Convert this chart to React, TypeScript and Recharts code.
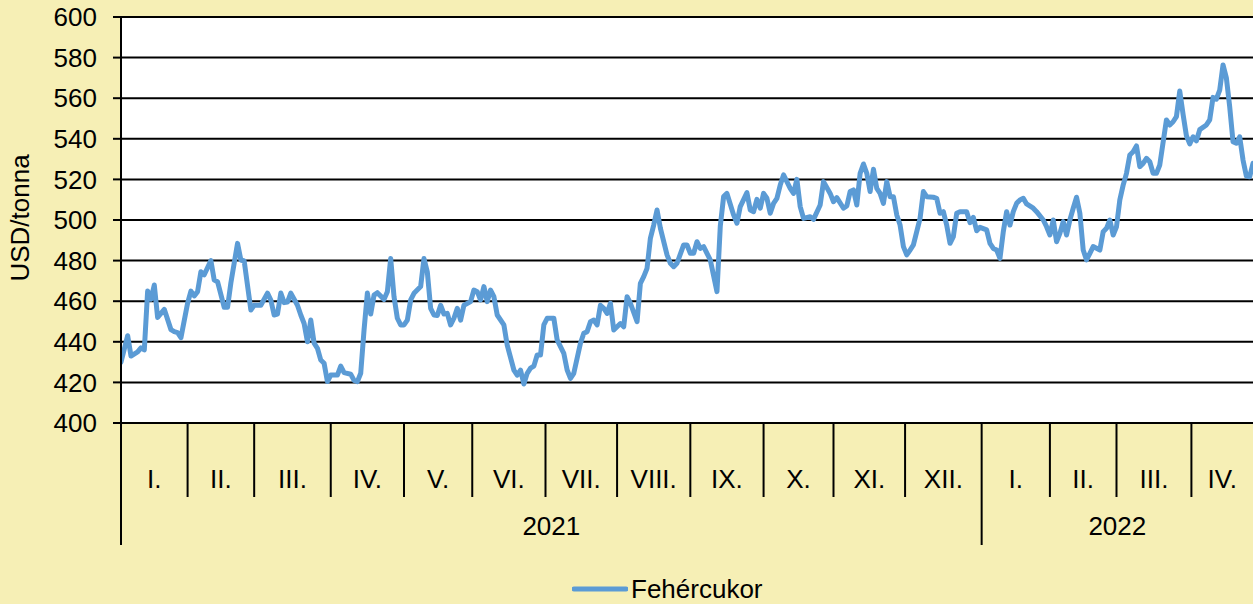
import React from 'react';
import { LineChart, Line, XAxis, YAxis, CartesianGrid, Legend } from 'recharts';

// trading-day index since 4 Jan 2021
const tradingDay = [
  0, 2, 3, 5, 6, 7, 8, 9, 10, 11, 13, 15, 16, 17, 18, 20, 21, 22, 23, 24, 25, 27, 28, 29, 31, 32, 33, 35, 36, 37, 39,
  40, 42, 44, 45, 46, 47, 48, 49, 50, 51, 53, 54, 55, 56, 57, 58, 59, 60, 61, 62, 63, 65, 66, 67, 69, 70, 71, 72, 73,
  74, 75, 76, 77, 79, 80, 81, 82, 83, 84, 85, 86, 87, 88, 90, 91, 92, 93, 94, 95, 96, 97, 98, 99, 100, 101, 102, 103,
  105, 106, 107, 108, 109, 110, 111, 112, 113, 115, 116, 118, 119, 120, 121, 122, 123, 124, 125, 126, 127, 128, 130,
  131, 133, 134, 135, 136, 138, 139, 140, 141, 142, 143, 144, 145, 146, 147, 148, 150, 151, 152, 153, 155, 156, 157,
  158, 159, 160, 161, 162, 164, 165, 166, 167, 169, 170, 171, 172, 173, 174, 175, 176, 177, 179, 180, 181, 182, 184,
  185, 186, 188, 189, 190, 191, 192, 193, 194, 195, 196, 197, 198, 199, 201, 202, 203, 204, 205, 207, 208, 210, 211,
  213, 214, 215, 217, 218, 219, 220, 221, 222, 223, 224, 225, 226, 227, 228, 229, 230, 231, 232, 233, 234, 235, 236,
  237, 238, 240, 241, 242, 244, 245, 246, 247, 248, 249, 250, 251, 252, 254, 255, 256, 257, 258, 260, 261, 262, 263,
  264, 265, 266, 267, 268, 269, 270, 271, 272, 274, 275, 277, 278, 279, 280, 281, 282, 283, 284, 285, 286, 287, 288,
  289, 290, 291, 292, 294, 295, 296, 297, 298, 299, 300, 301, 302, 303, 304, 305, 306, 307, 308, 309, 310, 311, 312,
  314, 315, 316, 317, 318, 319, 320, 321, 322, 323, 324, 326, 327, 328, 329, 330, 331, 332, 333, 334, 335, 336, 337,
  338, 339, 340,
];

// white sugar price, USD/tonne
const priceUsd = [
  430, 443, 433, 435, 437, 436, 465, 461, 468, 452, 456, 446, 445, 444.5, 442, 459, 465, 462.6, 464.7, 474.5, 473, 480,
  470.4, 469.6, 457, 457, 469, 488.5, 480.3, 479.8, 455.7,
  458, 458, 464, 460.6, 453.2, 453.6, 464, 459.3, 459.6, 464, 458, 453.2, 449, 440, 450.7, 439.3, 436.8, 431, 429.4,
  420.4, 423.6, 423.6, 428, 424.8, 424, 421, 420.4, 424.5, 445.8,
  464, 453.7, 463, 464.2, 460.9, 464.7, 481, 462.2, 451.6, 448.3, 448.3, 450.7, 460.6, 463.9, 467.2, 481, 474.5, 456.5,
  453.2, 453, 458, 453.7, 454, 448.3, 451.6, 456.5, 450.7, 458,
  459.8, 465.5, 464.7, 460.6, 467.2, 459.8, 465.5, 462.2, 453.2, 448.3, 438.4, 426.1, 423.6, 426.1, 419.2, 424.5, 427,
  428, 433.5, 433.5, 448.3, 451.6, 451.6,
  440.9, 434.3, 426.1, 422, 424.5, 439.3, 444.2, 445, 449.9, 450.7, 448.3, 458, 456.5, 454, 459, 445.8, 449, 447.4,
  462.2, 459, 449.9, 468.8, 472.1,
  476.2, 491, 497.5, 504.9, 496, 482.8, 478.7, 477, 478.7, 487.7, 487.7, 483.6, 483.6, 489.3, 486, 486.9, 483.6, 480.3,
  464.7, 497, 511.5, 513.1, 502.5,
  498.4, 506.6, 513.5, 504.9, 504.1, 510.2, 505.8, 513.1, 510.7, 503.3, 508.2, 510.7, 517.2, 522.2, 515.6, 513.1, 520,
  506.6, 500.8, 501.6, 500.3, 507.4, 518.9,
  513.1, 509, 511, 505.8, 506.9, 514, 514.8, 507.4, 523, 527.6, 523, 514, 525, 515.6, 513.1, 508.2, 518.9, 511.5, 511.5,
  502.5, 497.5, 486.9, 482.8,
  485.2, 487.7, 500.8, 514, 511.5, 511.2, 510.7, 503.3, 504.1, 497.5, 488.5, 491.8, 503.3, 504.1, 504.1, 498.7, 501.3,
  494.7, 496.4, 495.1, 488.5, 486, 485.2,
  481.1, 494.2, 504.1, 497.5, 504.1, 508.2, 509.9, 510.7, 507.9, 505.8, 504.1, 500, 496.7, 492.6, 500, 489.3, 493.4,
  499.2, 492.6, 500, 505.8, 511.2, 503.3,
  485.2, 480.3, 483.6, 486.9, 485.2, 494.2, 495.9, 500, 492.6, 496.7, 509.9, 517.2, 523, 532, 533.6, 536.5, 526.3,
  527.9, 530.4, 528.7, 523, 523, 527.1,
  549.3, 546.8, 548.4, 550.9, 563.5, 552, 541.5, 537.5, 541, 539, 544.5, 546.8, 549.3, 560.4, 559.5, 564, 576.4, 570,
  555.8, 538.6, 537.8, 541, 529.6,
  521.7, 521.3, 527.9,
];

const monthStarts = [0, 20, 40, 63, 85, 105.5, 127.5, 149, 171, 193, 214, 235.5, 258.5, 279, 299, 321.5];
const monthLabels = ['I.', 'II.', 'III.', 'IV.', 'V.', 'VI.', 'VII.', 'VIII.', 'IX.', 'X.', 'XI.', 'XII.', 'I.', 'II.', 'III.', 'IV.'];
const yearStarts = [0, 258.5];
const yearLabels = ['2021', '2022'];
const axisEnd = 340;
const yTicks = [400, 420, 440, 460, 480, 500, 520, 540, 560, 580, 600];
const seriesName = 'Fehércukor';
const yAxisTitle = 'USD/tonna';

const data = tradingDay.map((d, i) => ({ d, v: priceUsd[i] }));

type TickDef = { kind: 'month' | 'year' | 'mlabel' | 'ylabel'; label?: string };
const tickMap = new Map<number, TickDef>();
monthStarts.forEach((s) => tickMap.set(s, { kind: yearStarts.includes(s) ? 'year' : 'month' }));
monthStarts.forEach((s, i) => {
  const e = i + 1 < monthStarts.length ? monthStarts[i + 1] : axisEnd;
  tickMap.set((s + e) / 2, { kind: 'mlabel', label: monthLabels[i] });
});
yearStarts.forEach((s, i) => {
  const e = i + 1 < yearStarts.length ? yearStarts[i + 1] : axisEnd;
  tickMap.set((s + e) / 2, { kind: 'ylabel', label: yearLabels[i] });
});
const xTicks = Array.from(tickMap.keys()).sort((a, b) => a - b);

const FONT = '"Liberation Sans", Arial, sans-serif';
const BG = '#F6EFB5';
const LINE = '#5B9BD5';

const XTick = (props: any) => {
  const { x, y, payload } = props;
  const def = tickMap.get(payload.value);
  if (!def) return <g />;
  if (def.kind === 'month')
    return <line x1={x} x2={x} y1={y} y2={y + 74} stroke="#000" strokeWidth={2} />;
  if (def.kind === 'year')
    return <line x1={x} x2={x} y1={y} y2={y + 122} stroke="#000" strokeWidth={2} />;
  if (def.kind === 'mlabel')
    return (
      <text x={x} y={y + 65} textAnchor="middle" fill="#000" fontSize={26} fontFamily={FONT}>
        {def.label}
      </text>
    );
  return (
    <text x={x} y={y + 112} textAnchor="middle" fill="#000" fontSize={26} fontFamily={FONT}>
      {def.label}
    </text>
  );
};

const LegendContent = () => (
  <div style={{ display: 'flex', alignItems: 'center', height: 30, fontFamily: FONT }}>
    <svg width={56} height={30} style={{ display: 'block' }}>
      <line x1={2} y1={15} x2={54} y2={15} stroke={LINE} strokeWidth={5} strokeLinecap="round" />
    </svg>
    <span style={{ marginLeft: 3, fontSize: 26, color: '#000', lineHeight: '30px' }}>{seriesName}</span>
  </div>
);

export default function App() {
  return (
    <div
      style={{
        position: 'absolute',
        left: 0,
        top: 0,
        width: 1253,
        height: 604,
        background: BG,
        fontFamily: FONT,
        overflow: 'hidden',
      }}
    >
      <LineChart width={1253} height={604} data={data} margin={{ top: 17, right: 0, left: 0, bottom: 0 }}>
        <CartesianGrid horizontal vertical={false} stroke="#000" strokeWidth={2} fill="#fff" fillOpacity={1} />
        <XAxis
          dataKey="d"
          type="number"
          domain={[0, axisEnd]}
          ticks={xTicks}
          interval={0}
          tick={<XTick />}
          tickLine={false}
          tickSize={0}
          tickMargin={0}
          height={151}
          axisLine={{ stroke: '#000', strokeWidth: 2 }}
          allowDataOverflow
        />
        <YAxis
          domain={[400, 600]}
          ticks={yTicks}
          interval={0}
          width={121}
          tickSize={8}
          tickMargin={16}
          tick={{ fill: '#000', fontSize: 26, fontFamily: FONT }}
          tickLine={{ stroke: '#000', strokeWidth: 2 }}
          axisLine={{ stroke: '#000', strokeWidth: 2 }}
          allowDataOverflow
          label={(p: any) => {
            const vb = p.viewBox || { x: 0, y: 17, width: 121, height: 406 };
            const cx = vb.x + 20;
            const cy = vb.y + vb.height / 2 - 2;
            return (
              <text
                x={cx}
                y={cy}
                transform={`rotate(-90 ${cx} ${cy})`}
                textAnchor="middle"
                dominantBaseline="central"
                fill="#000"
                fontSize={26}
                fontFamily={FONT}
              >
                {yAxisTitle}
              </text>
            );
          }}
        />
        <Legend
          verticalAlign="bottom"
          wrapperStyle={{ position: 'absolute', left: 572, top: 574, width: 220, height: 30 }}
          content={<LegendContent />}
        />
        <Line
          type="linear"
          dataKey="v"
          name={seriesName}
          stroke={LINE}
          strokeWidth={5}
          strokeLinejoin="round"
          strokeLinecap="round"
          dot={false}
          activeDot={false}
          isAnimationActive={false}
        />
      </LineChart>
    </div>
  );
}
